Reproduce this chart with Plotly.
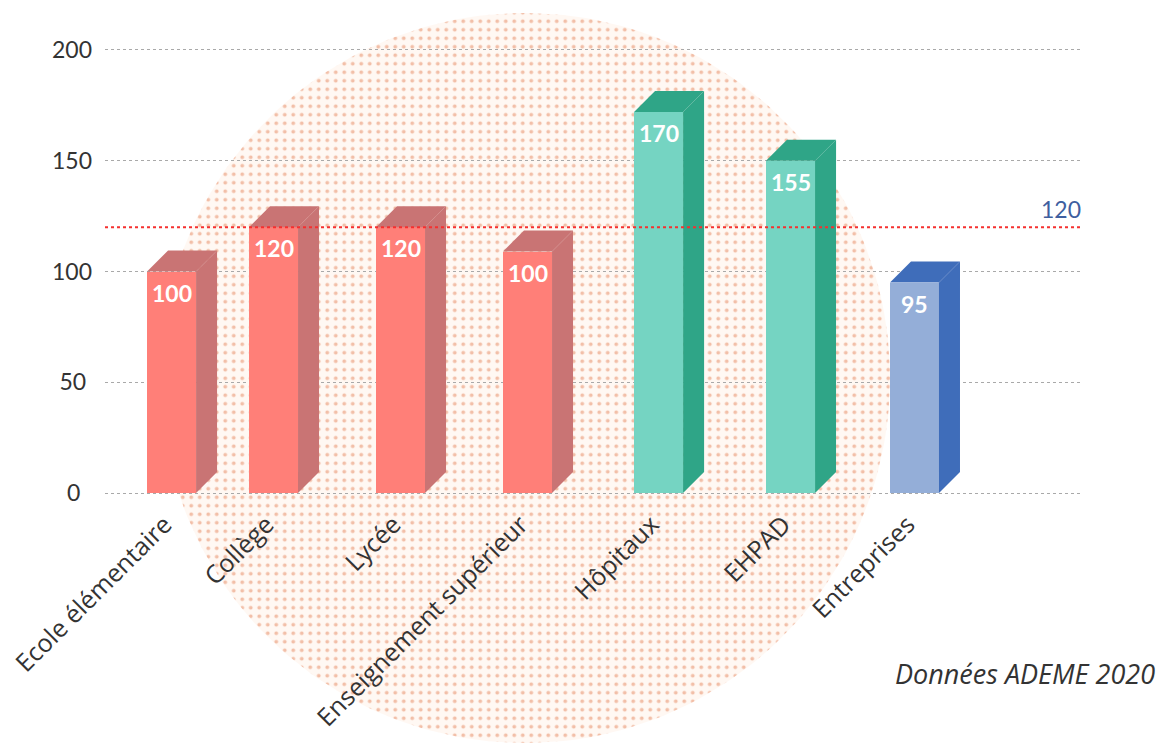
import numpy as np
import plotly.graph_objects as go

W, H = 1160, 755

# ---- data ----
categories = ["Ecole élémentaire", "Collège", "Lycée", "Enseignement supérieur",
              "Hôpitaux", "EHPAD", "Entreprises"]
bar_heights = [100, 120, 120, 109, 172, 150, 95]
bar_labels = ["100", "120", "120", "100", "170", "155", "95"]
reference_value = 120
reference_label = "120"
y_ticks = [0, 50, 100, 150, 200]
y_tick_labels = ["0\u00a0\u00a0", "50\u00a0", "100", "150", "200"]
source_note = "Données ADEME 2020"

# ---- layout / style ----
slots = [0, 0.803, 1.803, 2.803, 3.835, 4.874, 5.85]
front = ["#FF7F78"] * 4 + ["#75D4C2"] * 2 + ["#94AED8"]
shade = ["#C97474"] * 4 + ["#2FA587"] * 2 + ["#3F6DBA"]
bar_w = 0.386
x_range = [-0.524, 7.177]
y_range = [-0.9, 200.9]
plot_l, plot_r, plot_t, plot_b = 105, 1083, 48, 495
dx = 21 * (x_range[1] - x_range[0]) / (plot_r - plot_l)
dy = 21 * (y_range[1] - y_range[0]) / (plot_b - plot_t)

fig = go.Figure()

# dotted background disc on a full-canvas pixel axis pair (drawn first)
theta = np.linspace(0, 2 * np.pi, 241)
fig.add_trace(go.Scatter(
    x=525 + 365 * np.cos(theta), y=378 + 365 * np.sin(theta),
    xaxis="x", yaxis="y", mode="lines", line=dict(width=0), fill="toself",
    fillcolor="rgba(0,0,0,0)",
    fillpattern=dict(shape=".", size=8.5, solidity=0.16, fgcolor="#F2BFA8",
                     bgcolor="rgba(255,242,232,0.5)", fillmode="replace"),
    hoverinfo="skip", showlegend=False))

# front faces
fig.add_trace(go.Bar(x=slots, y=bar_heights, width=bar_w, xaxis="x2", yaxis="y2",
                     marker=dict(color=front, line=dict(width=0)),
                     showlegend=False, hovertext=categories))

# side and top faces, derived from values
for s, v, c in zip(slots, bar_heights, shade):
    l, r = s - bar_w / 2, s + bar_w / 2
    fig.add_trace(go.Scatter(
        x=[r, r + dx, r + dx, r, r], y=[0, dy, v + dy, v, 0], xaxis="x2", yaxis="y2",
        mode="lines", line=dict(width=0), fill="toself", fillcolor=c,
        hoverinfo="skip", showlegend=False))
    fig.add_trace(go.Scatter(
        x=[l, r, r + dx, l + dx, l], y=[v, v, v + dy, v + dy, v], xaxis="x2", yaxis="y2",
        mode="lines", line=dict(width=0), fill="toself", fillcolor=c,
        hoverinfo="skip", showlegend=False))

# reference line
fig.add_trace(go.Scatter(x=x_range, y=[reference_value] * 2, mode="lines",
                         xaxis="x2", yaxis="y2",
                         line=dict(color="#F5302F", width=2, dash="dot"),
                         hoverinfo="skip", showlegend=False))

annotations = [dict(x=s, y=v, xref="x2", yref="y2", text=f"<b>{t}</b>",
                    showarrow=False, yshift=-21,
                    font=dict(family="Lato", size=23, color="white"))
               for s, v, t in zip(slots, bar_heights, bar_labels)]
annotations.append(dict(x=x_range[1], y=reference_value, xref="x2", yref="y2",
                        text=reference_label, showarrow=False, xanchor="right",
                        yshift=18, font=dict(family="Lato", size=23, color="#3F5F9F")))
annotations.append(dict(xref="paper", yref="paper", x=1157 / W, y=1 - 673 / H,
                        text=f"<i>{source_note}</i>", showarrow=False,
                        xanchor="right", yanchor="middle",
                        font=dict(family="Open Sans", size=27, color="#333333")))

fig.update_layout(
    width=W, height=H, margin=dict(l=0, r=0, t=0, b=0),
    paper_bgcolor="white", plot_bgcolor="rgba(0,0,0,0)",
    font=dict(family="Lato", size=22, color="#333333"),
    bargap=0, annotations=annotations,
    xaxis=dict(domain=[0, 1], range=[0, W], anchor="y", visible=False, automargin=False),
    yaxis=dict(domain=[0, 1], range=[H, 0], anchor="x", visible=False, automargin=False),
    xaxis2=dict(domain=[plot_l / W, plot_r / W], range=x_range, anchor="y2",
                tickmode="array", tickvals=slots, automargin=False,
                ticktext=categories, tickangle=-45, ticks="", showgrid=False,
                zeroline=False, showline=False, ticklabelshift=-7, ticklabelstandoff=9,
                tickfont=dict(family="Open Sans", size=25, color="#333333")),
    yaxis2=dict(domain=[1 - plot_b / H, 1 - plot_t / H], range=y_range, anchor="x2",
                tickmode="array", tickvals=y_ticks, automargin=False,
                ticktext=y_tick_labels, showgrid=True, griddash="dot",
                gridcolor="#A9A9A9", gridwidth=1, zeroline=False, showline=False,
                ticks="", ticklabelstandoff=12,
                tickfont=dict(family="Lato", size=23, color="#333333")),
)

fig.write_html("out.html", config=dict(displayModeBar=False),
               post_script="document.body.style.margin='0';document.body.style.overflow='hidden';")
